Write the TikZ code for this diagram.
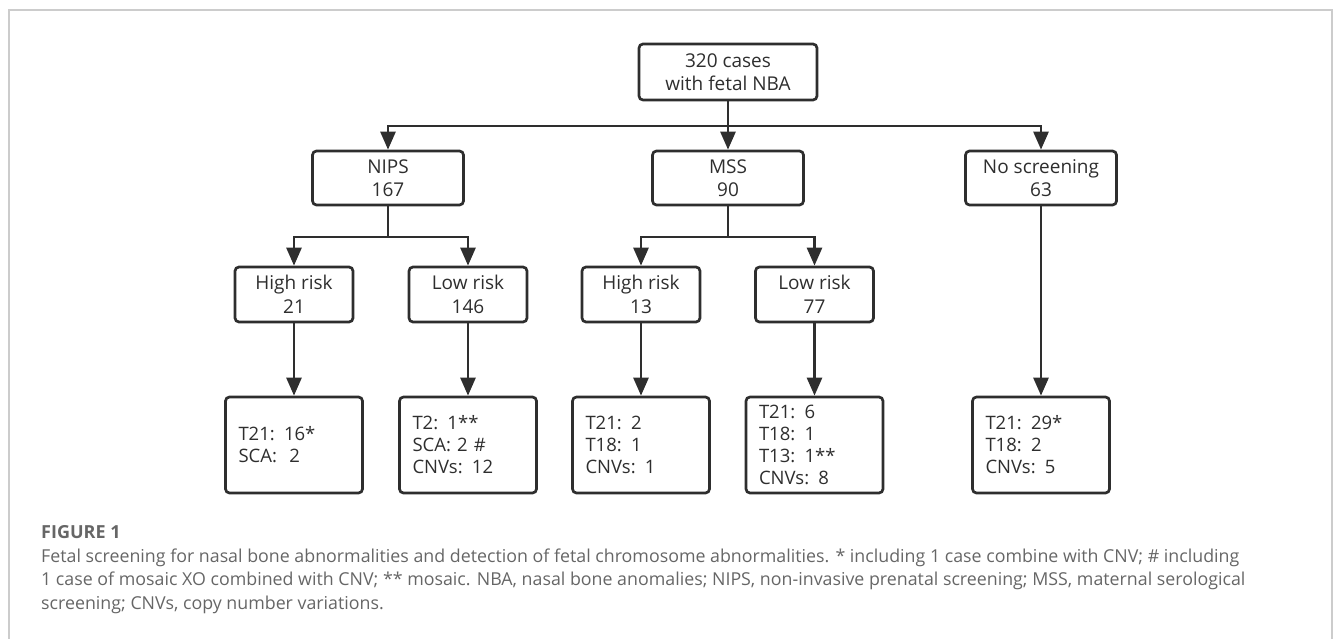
\documentclass[tikz,border=0pt]{standalone}
\usepackage{fontspec}
\setmainfont{Open Sans}
\newfontfamily\capsans{Open Sans}
\usetikzlibrary{arrows.meta}
\definecolor{linec}{HTML}{2E2E2E}
\definecolor{capc}{HTML}{666666}
\definecolor{framec}{HTML}{CCCCCC}
\begin{document}
\begin{tikzpicture}[x=1pt,y=-1pt,
  box/.style={draw=linec, line width=2.7pt, rounded corners=4pt, align=center,
    inner sep=0pt, text=linec, font=\fontsize{19}{23.5}\selectfont},
  lvtwo/.style={box, minimum width=151pt, minimum height=54pt},
  lvthree/.style={box, minimum width=118pt, minimum height=55pt},
  lvfour/.style={box, align=left, text width=111pt, inner xsep=13pt, inner ysep=0pt,
    minimum height=96pt, font=\fontsize{18.5}{22}\selectfont},
  arr/.style={draw=linec, line width=2.7pt, -{Triangle[width=15pt,length=18pt]}},
  captxt/.style={anchor=base west, inner sep=0pt, text=capc}
]
\useasboundingbox (0,0) rectangle (1333,639);
\draw[framec, line width=1.2pt] (9,650) -- (9,10) -- (1332,10) -- (1332,650);

\node[box, minimum width=178pt, minimum height=56pt] (top) at (728,72) {320 cases\\with fetal NBA};

\node[lvtwo] (nips) at (388,178) {NIPS\\167};
\node[lvtwo] (mss) at (728,178) {MSS\\90};
\node[lvtwo] (nosc) at (1041,178) {No screening\\63};

\node[lvthree] (nh) at (294,294.5) {High risk\\21};
\node[lvthree] (nl) at (468,294.5) {Low risk\\146};
\node[lvthree] (mh) at (641,294.5) {High risk\\13};
\node[lvthree] (ml) at (814.5,294.5) {Low risk\\77};

\node[lvfour] (nhr) at (294,445) {T21: 16*\\SCA:\ \ 2};
\node[lvfour] (nlr) at (468,445) {T2: 1**\\SCA: 2 \#\\CNVs: 12};
\node[lvfour] (mhr) at (641,445) {T21: 2\\T18: 1\\CNVs: 1};
\node[lvfour] (mlr) at (814.5,445) {T21: 6\\T18: 1\\T13: 1**\\CNVs: 8};
\node[lvfour] (nsr) at (1041,445) {T21: 29*\\T18: 2\\CNVs: 5};

\coordinate (j1) at (728,126);
\draw[arr] (top.south) -- (mss.north);
\draw[arr] (j1) -| (nips.north);
\draw[arr] (j1) -| (nosc.north);

\coordinate (j2) at (388,237);
\coordinate (j3) at (728,237);
\draw[arr] (nips.south) -- (j2) -| (nh.north);
\draw[arr] (nips.south) -- (j2) -| (nl.north);
\draw[arr] (mss.south) -- (j3) -| (mh.north);
\draw[arr] (mss.south) -- (j3) -| (ml.north);

\draw[arr] (nh.south) -- (nhr.north);
\draw[arr] (nl.south) -- (nlr.north);
\draw[arr] (mh.south) -- (mhr.north);
\draw[arr] (ml.south) -- (mlr.north);
\draw[arr] (nosc.south) -- (nsr.north);

\node[captxt] (fig) at (41,538) {\capsans\bfseries\fontsize{18}{23}\selectfont FIGURE 1};
\node[captxt] (c1) at (41,562) {\capsans\fontsize{17.8}{23}\selectfont Fetal screening for nasal bone abnormalities and detection of fetal chromosome abnormalities. * including 1 case combine with CNV; \# including};
\node[captxt] (c2) at (41,585.5) {\capsans\fontsize{17.8}{23}\selectfont 1 case of mosaic XO combined with CNV; ** mosaic. NBA, nasal bone anomalies; NIPS, non-invasive prenatal screening; MSS, maternal serological};
\node[captxt] (c3) at (41,609) {\capsans\fontsize{17.8}{23}\selectfont screening; CNVs, copy number variations.};
\end{tikzpicture}
\end{document}
